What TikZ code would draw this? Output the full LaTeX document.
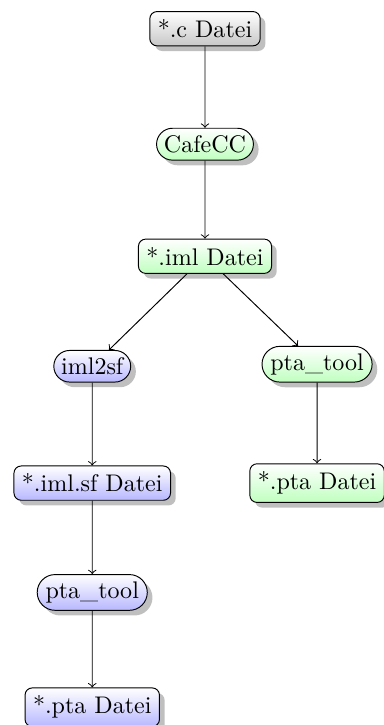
\documentclass[tikz,border=0pt]{standalone}
\usepackage{tikz}
\usetikzlibrary{shapes.misc,shadows}

\begin{document}
\begin{tikzpicture}[
  filebox/.style={draw, rounded corners=3pt, drop shadow, inner sep=3.33pt},
  toolbox/.style={draw, rounded rectangle, drop shadow, inner xsep=2pt, inner ysep=3pt},
  grayfill/.style={top color=white, bottom color=black!22},
  greenfill/.style={top color=white, bottom color=green!25},
  bluefill/.style={top color=white, bottom color=blue!28}]
\useasboundingbox (0,0) rectangle (5.61,-10.61);
\node[filebox, grayfill] (cfile) at (3.0,-0.42) {*.c Datei};
\node[toolbox, greenfill] (cafecc) at (3.0,-2.11) {CafeCC};
\node[filebox, greenfill] (imlfile) at (3.0,-3.75) {*.iml Datei};
\node[toolbox, bluefill] (imlsf) at (1.35,-5.36) {iml2sf};
\node[toolbox, greenfill] (ptatoolr) at (4.64,-5.33) {pta\_tool};
\node[filebox, bluefill] (imlsffile) at (1.35,-7.07) {*.iml.sf Datei};
\node[filebox, greenfill] (ptafiler) at (4.64,-7.07) {*.pta Datei};
\node[toolbox, bluefill] (ptatooll) at (1.35,-8.67) {pta\_tool};
\node[filebox, bluefill] (ptafilel) at (1.35,-10.35) {*.pta Datei};
\draw[->] (cfile) -- (cafecc);
\draw[->] (cafecc) -- (imlfile);
\draw[->] (imlfile) -- (imlsf);
\draw[->] (imlfile) -- (ptatoolr);
\draw[->] (imlsf) -- (imlsffile);
\draw[->] (ptatoolr) -- (ptafiler);
\draw[->] (imlsffile) -- (ptatooll);
\draw[->] (ptatooll) -- (ptafilel);
\end{tikzpicture}
\end{document}
